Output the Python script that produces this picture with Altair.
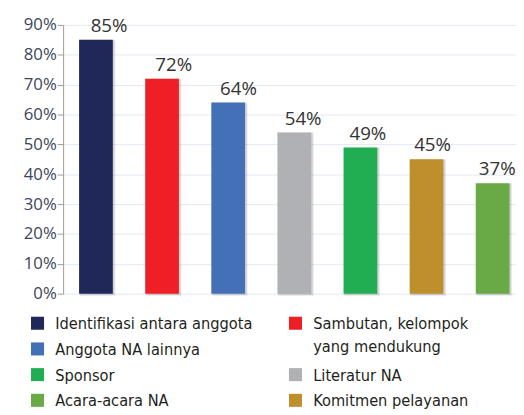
import altair as alt
import pandas as pd

categories = ["Identifikasi antara anggota", "Sambutan, kelompok\nyang mendukung",
              "Anggota NA lainnya", "Literatur NA", "Sponsor",
              "Komitmen pelayanan", "Acara-acara NA"]
values = [0.85, 0.72, 0.64, 0.54, 0.49, 0.45, 0.37]
colors = ["#1f2859", "#ee1f25", "#4470b8", "#b0b1b4", "#21ad51", "#bd8f2d", "#6aaa46"]
legend_col = [0, 1, 0, 1, 0, 1, 0]
legend_row = [0, 0, 1, 2, 2, 3, 3]
y_ticks = [0, 0.1, 0.2, 0.3, 0.4, 0.5, 0.6, 0.7, 0.8, 0.9]

df = pd.DataFrame({
    "cat": categories,
    "val": values,
    "label": [f"{round(v*100)}%" for v in values],
    "col": legend_col,
    "row": legend_row,
})

x_enc = alt.X("cat:N", sort=categories, axis=None,
              scale=alt.Scale(paddingInner=0.49, paddingOuter=0.17, align=0.71))
y_scale = alt.Scale(domain=[0, 0.9], nice=False)
color_enc = alt.Color("cat:N", scale=alt.Scale(domain=categories, range=colors), legend=None)

base = alt.Chart(df)

shadow = base.mark_bar(color="#000000", opacity=0.18, xOffset=1.5, yOffset=1, stroke="#000000",
                       strokeWidth=2, strokeOpacity=0.5).encode(
    x=x_enc, y=alt.Y("val:Q", scale=y_scale, axis=None)
)

bars = base.mark_bar().encode(
    x=x_enc,
    y=alt.Y("val:Q", scale=y_scale,
            axis=alt.Axis(values=y_ticks, format=".0%", title=None,
                          grid=True, gridColor="#e4e9f3", gridWidth=1,
                          domainColor="#9a9a9a", tickColor="#9a9a9a", tickSize=6,
                          labelPadding=1, labelFont="Open Sans", labelFontSize=17,
                          labelColor="#3b4658")),
    color=color_enc,
)

text = base.mark_text(baseline="alphabetic", dy=-8, font="Open Sans", fontSize=19,
                      color="#333333").encode(
    x=x_enc, y=alt.Y("val:Q", scale=y_scale, axis=None), text="label:N"
)

lx = alt.X("col:Q", axis=None, scale=alt.Scale(domain=[0, 1], range=[-26, 236]))
ly = alt.Y("row:Q", axis=None, scale=alt.Scale(domain=[0, 3], range=[303, 381.3]))

leg_sq = base.mark_square(size=175, opacity=1).encode(x=lx, y=ly, color=color_enc)
leg_tx = base.mark_text(align="left", baseline="alphabetic", dx=18, dy=6, lineBreak="\n",
                        lineHeight=23,
                        font="DejaVu Sans Condensed, sans-serif",
                        fontSize=16.5, color="#231f20").encode(
    x=lx, y=ly, text="cat:N"
)

legend = alt.layer(leg_sq, leg_tx).resolve_scale(x="independent", y="independent")

chart = alt.layer(shadow, bars, text, legend).resolve_scale(
    x="independent", y="independent"
).properties(
    width=460, height=273,
    padding={"left": 56, "top": 14, "right": 0, "bottom": 120},
    autosize=alt.AutoSizeParams(type="none"),
).configure_view(stroke=None)

chart.save("out.html", embed_options={"renderer": "svg", "actions": False})
